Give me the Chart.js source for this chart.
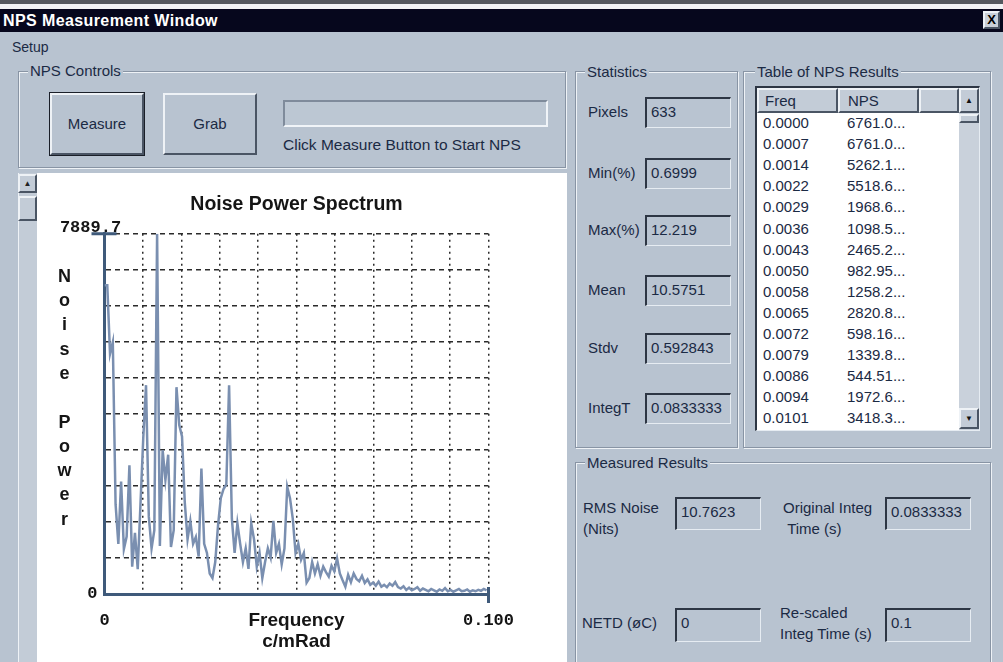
<!DOCTYPE html>
<html>
<head>
<meta charset="utf-8">
<title>NPS Measurement Window</title>
<script src="https://cdn.jsdelivr.net/npm/chart.js@4.4.1/dist/chart.umd.min.js"></script>
<style>
body { margin: 0; width: 1003px; height: 662px; overflow: hidden; position: relative;
  background: #b8c3d0; font-family: "Liberation Sans", Arial, sans-serif; font-size: 15px; color: #1b2a44; }
div, span { position: absolute; box-sizing: border-box; }
.group { border: 1px solid #8894a4; box-shadow: inset 1px 1px 0 #eef2f6, 1px 1px 0 #eef2f6; }
.glabel { background: #b8c3d0; padding: 0 2px; line-height: 16px; white-space: nowrap; }
.btn { border: 2px solid; border-color: #eef2f6 #4a5564 #4a5564 #eef2f6; text-align: center; }
.sunken { border-style: solid; border-width: 2px 1px 1px 2px; border-color: #2d3644 #e6ecf2 #e6ecf2 #2d3644; background: #b9c4d1; }
.lbl { white-space: nowrap; line-height: 20px; }
.tb { padding-left: 4px; line-height: 26px; white-space: nowrap; overflow: hidden; }
#list .row { position: absolute; left: 0; height: 21px; line-height: 21px; white-space: nowrap; }
</style>
</head>
<body>
<div style="left:0;top:0;width:1003px;height:4px;background:#55595f"></div>
<div style="left:0;top:4px;width:1003px;height:5px;background:#f2f4f6"></div>
<div style="left:0;top:9px;width:1003px;height:23px;background:#06071d;color:#fff;font-weight:bold;font-size:16px;line-height:23px;padding-left:3px;letter-spacing:0.4px;white-space:nowrap">NPS Measurement Window</div>
<div class="btn" style="left:983px;top:11px;width:17px;height:18px;background:#c9d0d9;color:#000;font-weight:bold;font-size:13px;line-height:14px">X</div>
<div class="lbl" style="left:12px;top:37px;font-size:14px">Setup</div>

<!-- NPS Controls -->
<div class="group" style="left:18px;top:71px;width:548px;height:97px"></div>
<span class="glabel" style="left:28px;top:63px">NPS Controls</span>
<div class="btn" style="left:50px;top:93px;width:94px;height:62px;line-height:58px;outline:1px solid #1a1f28">Measure</div>
<div class="btn" style="left:163px;top:93px;width:94px;height:62px;line-height:58px">Grab</div>
<div class="sunken" style="left:283px;top:100px;width:265px;height:27px;border-width:2px 2px 2px 2px;border-color:#7f8b9b #f0f4f8 #f0f4f8 #7f8b9b;background:#bcc7d3"></div>
<div class="lbl" style="left:283px;top:135px;font-size:15.5px">Click Measure Button to Start NPS</div>

<!-- chart panel -->
<div style="left:18px;top:173px;width:19px;height:489px;background:#c3ccd7;border-left:1px solid #eef2f6"></div>
<div class="btn" style="left:18px;top:174px;width:19px;height:19px;font-size:8px;line-height:15px;color:#222">&#9650;</div>
<div class="btn" style="left:18px;top:196px;width:19px;height:25px"></div>
<div style="left:37px;top:173px;width:530px;height:489px;background:#fff">
  <canvas id="nps" width="519" height="489" style="display:block"></canvas>
</div>

<!-- Statistics -->
<div class="group" style="left:575px;top:71px;width:163px;height:377px"></div>
<span class="glabel" style="left:585px;top:64px">Statistics</span>
<div id="stats"></div>

<!-- Table of NPS Results -->
<div class="group" style="left:743px;top:71px;width:248px;height:377px"></div>
<span class="glabel" style="left:755px;top:64px">Table of NPS Results</span>
<div id="list" class="sunken" style="left:755px;top:86px;width:225px;height:345px;background:#fff;overflow:hidden">
  <div class="btn" style="left:0;top:0;width:81px;height:25px;line-height:21px;text-align:left;padding-left:6px;background:#c3ccd7">Freq</div>
  <div class="btn" style="left:81px;top:0;width:81px;height:25px;line-height:21px;text-align:left;padding-left:8px;background:#c3ccd7">NPS</div>
  <div class="btn" style="left:162px;top:0;width:40px;height:25px;background:#c3ccd7"></div>
  <div style="left:202px;top:0;width:20px;height:343px;background:#c9d1db"></div>
  <div class="btn" style="left:202px;top:0;width:20px;height:25px;font-size:8px;line-height:21px;color:#111;background:#c3ccd7">&#9650;</div>
  <div class="btn" style="left:202px;top:26px;width:20px;height:9px;background:#c3ccd7"></div>
  <div class="btn" style="left:202px;top:320px;width:20px;height:21px;font-size:8px;line-height:17px;color:#111;background:#c3ccd7">&#9660;</div>
  <div id="rows" style="left:0;top:24px;width:202px;height:320px"></div>
</div>

<!-- Measured Results -->
<div class="group" style="left:575px;top:462px;width:416px;height:230px"></div>
<span class="glabel" style="left:585px;top:455px">Measured Results</span>
<div class="lbl" style="left:583px;top:497px;line-height:21px">RMS Noise<br>(Nits)</div>
<div class="sunken tb" style="left:675px;top:497px;width:86px;height:33px">10.7623</div>
<div class="lbl" style="left:783px;top:497px;line-height:21px">Original Integ<br>&nbsp;Time (s)</div>
<div class="sunken tb" style="left:885px;top:497px;width:86px;height:33px">0.0833333</div>
<div class="lbl" style="left:582px;top:613px">NETD (øC)</div>
<div class="sunken tb" style="left:675px;top:608px;width:86px;height:34px">0</div>
<div class="lbl" style="left:780px;top:602px;line-height:21px">Re-scaled<br>Integ Time (s)</div>
<div class="sunken tb" style="left:885px;top:608px;width:86px;height:34px">0.1</div>

<script>
// Noise power spectrum, one value per frequency bin
const freqStep = 0.000721;  // c/mRad between bins
const nps = [
  6761, 6761, 5262, 5518, 1968, 1098, 2465, 983, 1258, 2821,
  598, 1340, 545, 1973, 3418, 4574, 1700, 1000, 1400, 7889.7,
  1050, 3150, 2500, 3050, 1030, 1400, 4530, 3700, 3450, 2000,
  1200, 1600, 1100, 1250, 820, 2750, 1100, 900, 450, 350,
  700, 1500, 2100, 2300, 2400, 4574, 1650, 900, 1550, 1100,
  700, 1000, 550, 1550, 1200, 600, 900, 350, 700, 1000,
  800, 1600, 900, 1100, 650, 1000, 2350, 2100, 1650, 900,
  1100, 750, 900, 250, 350, 700, 450, 650, 400, 600,
  480, 380, 620, 500, 780, 450, 300, 160, 420, 260,
  450, 330, 280, 400, 240, 320, 200, 250, 180, 270,
  160, 200, 150, 230, 180, 260, 150, 120, 170, 90,
  140, 80, 110, 150, 70, 120, 90, 60, 110, 80,
  50, 100, 70, 130, 60, 90, 50, 80, 110, 60,
  70, 100, 50, 80, 60, 90, 70, 110, 80
];
const yMax = 7889.7;
const xMax = 0.1;
const yTickLabels = ['0', '7889.7'];
const xTickLabels = ['0', '0.100'];
const yTitle = 'Noise Power';
const xTitle = ['Frequency', 'c/mRad'];

// panel values
const statLabels = ['Pixels', 'Min(%)', 'Max(%)', 'Mean', 'Stdv', 'IntegT'];
const statValues = ['633', '0.6999', '12.219', '10.5751', '0.592843', '0.0833333'];
const tableFreq = ['0.0000', '0.0007', '0.0014', '0.0022', '0.0029', '0.0036', '0.0043', '0.0050',
  '0.0058', '0.0065', '0.0072', '0.0079', '0.0086', '0.0094', '0.0101'];
const tableNps = ['6761.0...', '6761.0...', '5262.1...', '5518.6...', '1968.6...', '1098.5...', '2465.2...', '982.95...',
  '1258.2...', '2820.8...', '598.16...', '1339.8...', '544.51...', '1972.6...', '3418.3...'];

const statTops = [97, 158, 215, 275, 333, 393];
const stats = document.getElementById('stats');
statLabels.forEach((l, i) => {
  stats.insertAdjacentHTML('beforeend',
    `<div class="lbl" style="left:588px;top:${statTops[i] + 5}px">${l}</div>` +
    `<div class="sunken tb" style="left:645px;top:${statTops[i]}px;width:86px;height:31px">${statValues[i]}</div>`);
});
const rows = document.getElementById('rows');
tableFreq.forEach((f, i) => {
  rows.insertAdjacentHTML('beforeend',
    `<div class="row" style="top:${i * 21.1}px;left:6px">${f}</div>` +
    `<div class="row" style="top:${i * 21.1}px;left:90px">${tableNps[i]}</div>`);
});

const axisColor = '#3f5a7a';
const gridColor = '#2b2b2b';
const monoBold = { family: '"Liberation Mono", monospace', weight: 'bold', size: 17 };

// end labels of the y axis, end tick marks and the stacked y title
const decor = {
  id: 'decor',
  afterDraw(c) {
    const { ctx, scales: { x, y } } = c;
    const left = x.getPixelForValue(0), right = x.getPixelForValue(xMax);
    const top = y.getPixelForValue(yMax), bottom = y.getPixelForValue(0);
    ctx.save();
    ctx.strokeStyle = axisColor;
    ctx.lineWidth = 3;
    ctx.beginPath();
    ctx.moveTo(left - 13, top); ctx.lineTo(left + 12, top);
    ctx.moveTo(right, bottom - 7); ctx.lineTo(right, bottom + 9);
    ctx.stroke();
    ctx.fillStyle = '#151515';
    ctx.font = 'bold 17px "Liberation Mono", monospace';
    ctx.textAlign = 'center';
    ctx.textBaseline = 'alphabetic';
    ctx.fillText(yTickLabels[1], left - 14, top - 2);
    ctx.textAlign = 'right';
    ctx.textBaseline = 'middle';
    ctx.fillText(yTickLabels[0], left - 7, bottom);
    ctx.font = 'bold 18px "Liberation Sans", Arial, sans-serif';
    ctx.textAlign = 'center';
    [...yTitle].forEach((ch, k) => ctx.fillText(ch, left - 40, top + 43 + k * 24.3));
    ctx.restore();
  }
};

new Chart(document.getElementById('nps'), {
  type: 'line',
  data: {
    datasets: [{
      data: nps.map((v, i) => ({ x: i * freqStep, y: v })),
      borderColor: '#7a8fb0',
      borderWidth: 2.5,
      pointRadius: 0,
      tension: 0,
      fill: false
    }]
  },
  options: {
    responsive: false,
    animation: false,
    devicePixelRatio: 1,
    layout: { padding: { left: 67.5, right: 67.5, top: 0, bottom: 0 } },
    plugins: {
      legend: { display: false },
      tooltip: { enabled: false },
      title: {
        display: true,
        text: 'Noise Power Spectrum',
        color: '#151515',
        font: { family: '"Liberation Sans", Arial, sans-serif', weight: 'bold', size: 19.5, lineHeight: 1.2 },
        padding: { top: 20, bottom: 17.4 }
      }
    },
    scales: {
      x: {
        type: 'linear',
        min: 0,
        max: xMax,
        afterBuildTicks: s => { s.ticks = Array.from({ length: 11 }, (_, k) => ({ value: xMax * k / 10 })); },
        afterFit: s => { s.height = 68; },
        grid: { color: gridColor, lineWidth: 1.5, drawTicks: false },
        border: { display: true, color: axisColor, width: 3, dash: [2, 4] },
        ticks: {
          padding: 17, autoSkip: false, maxRotation: 0, color: '#151515', font: monoBold,
          callback: (v, i, t) => i === 0 ? xTickLabels[0] : (i === t.length - 1 ? xTickLabels[1] : '')
        },
        title: {
          display: true, text: xTitle, color: '#151515',
          font: { family: '"Liberation Sans", Arial, sans-serif', weight: 'bold', size: 19, lineHeight: '21px' },
          padding: { top: 0, bottom: 10 }
        }
      },
      y: {
        min: 0,
        max: yMax,
        afterBuildTicks: s => { s.ticks = Array.from({ length: 11 }, (_, k) => ({ value: yMax * k / 10 })); },
        afterFit: s => { s.width = 0; },
        grid: { color: gridColor, lineWidth: 1.5, drawTicks: false },
        border: { display: true, color: axisColor, width: 3, dash: [5, 4] },
        ticks: { display: false }
      }
    }
  },
  plugins: [decor]
});
</script>
</body>
</html>
